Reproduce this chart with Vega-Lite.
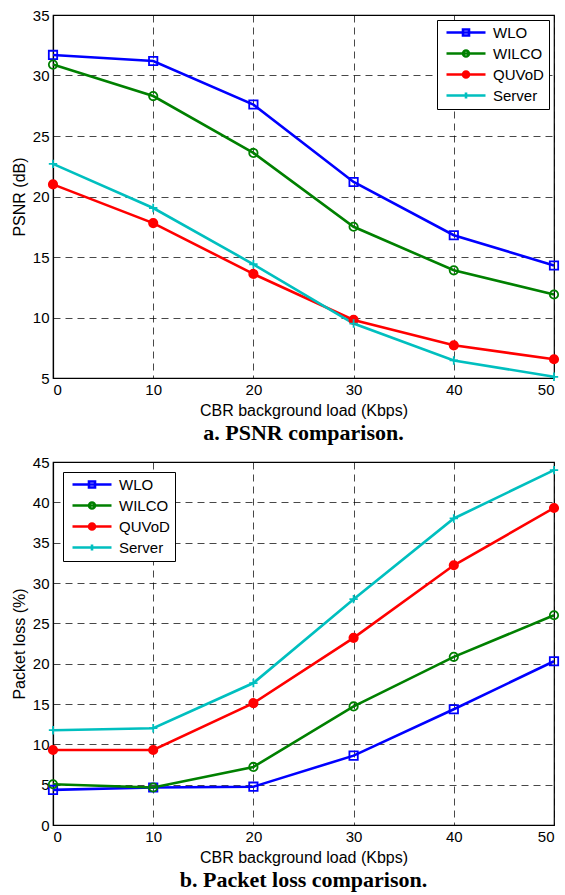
{
"$schema": "https://vega.github.io/schema/vega-lite/v6.json",
"padding": {"left": 10, "top": 7, "right": 0, "bottom": 0},
"background": "white",
"datasets": {
"psnr": [
{"load": 0, "series": "WLO", "value": 31.7}, {"load": 10, "series": "WLO", "value": 31.2}, {"load": 20, "series": "WLO", "value": 27.6}, {"load": 30, "series": "WLO", "value": 21.2}, {"load": 40, "series": "WLO", "value": 16.8}, {"load": 50, "series": "WLO", "value": 14.3},
{"load": 0, "series": "WILCO", "value": 30.9}, {"load": 10, "series": "WILCO", "value": 28.3}, {"load": 20, "series": "WILCO", "value": 23.6}, {"load": 30, "series": "WILCO", "value": 17.5}, {"load": 40, "series": "WILCO", "value": 13.9}, {"load": 50, "series": "WILCO", "value": 11.9},
{"load": 0, "series": "QUVoD", "value": 21.0}, {"load": 10, "series": "QUVoD", "value": 17.8}, {"load": 20, "series": "QUVoD", "value": 13.6}, {"load": 30, "series": "QUVoD", "value": 9.8}, {"load": 40, "series": "QUVoD", "value": 7.7}, {"load": 50, "series": "QUVoD", "value": 6.55},
{"load": 0, "series": "Server", "value": 22.7}, {"load": 10, "series": "Server", "value": 19.05}, {"load": 20, "series": "Server", "value": 14.4}, {"load": 30, "series": "Server", "value": 9.5}, {"load": 40, "series": "Server", "value": 6.45}, {"load": 50, "series": "Server", "value": 5.1}
],
"loss": [
{"load": 0, "series": "WLO", "value": 4.35}, {"load": 10, "series": "WLO", "value": 4.65}, {"load": 20, "series": "WLO", "value": 4.75}, {"load": 30, "series": "WLO", "value": 8.6}, {"load": 40, "series": "WLO", "value": 14.35}, {"load": 50, "series": "WLO", "value": 20.3},
{"load": 0, "series": "WILCO", "value": 5.05}, {"load": 10, "series": "WILCO", "value": 4.65}, {"load": 20, "series": "WILCO", "value": 7.2}, {"load": 30, "series": "WILCO", "value": 14.7}, {"load": 40, "series": "WILCO", "value": 20.85}, {"load": 50, "series": "WILCO", "value": 26.0},
{"load": 0, "series": "QUVoD", "value": 9.3}, {"load": 10, "series": "QUVoD", "value": 9.3}, {"load": 20, "series": "QUVoD", "value": 15.1}, {"load": 30, "series": "QUVoD", "value": 23.2}, {"load": 40, "series": "QUVoD", "value": 32.2}, {"load": 50, "series": "QUVoD", "value": 39.3},
{"load": 0, "series": "Server", "value": 11.75}, {"load": 10, "series": "Server", "value": 12.0}, {"load": 20, "series": "Server", "value": 17.6}, {"load": 30, "series": "Server", "value": 28.0}, {"load": 40, "series": "Server", "value": 38.0}, {"load": 50, "series": "Server", "value": 44.0}
]
},
"config": {
"view": {"stroke": "black", "strokeWidth": 1.2},
"font": "Liberation Sans",
"axis": {"labelFont": "Liberation Sans", "labelFontSize": 15, "labelColor": "black", "titleFont": "Liberation Sans", "titleFontSize": 16, "titleFontWeight": "normal", "titleColor": "black", "domainColor": "black", "domainWidth": 1.2, "ticks": false, "grid": true, "gridColor": "black", "gridDash": [7, 5], "gridOpacity": 0.8, "gridWidth": 0.9, "labelPadding": 4, "titlePadding": 5},
"title": {"font": "Liberation Serif", "fontSize": 22, "fontWeight": "bold", "color": "black", "orient": "bottom", "offset": 5},
"concat": {"spacing": 9}
},
"vconcat": [
{
"width": 501, "height": 363,
"title": {"text": "a. PSNR comparison.", "orient": "bottom"},
"data": {"name": "psnr"},
"encoding": {
"x": {"field": "load", "type": "quantitative", "scale": {"domain": [0, 50], "nice": false}, "axis": {"values": [0, 10, 20, 30, 40, 50], "title": "CBR background load (Kbps)"}},
"y": {"field": "value", "type": "quantitative", "scale": {"domain": [5, 35], "nice": false, "zero": false}, "axis": {"values": [5, 10, 15, 20, 25, 30, 35], "title": "PSNR (dB)"}}
},
"layer": [
{"mark": {"type": "line", "strokeWidth": 2.6},
"encoding": {"color": {"field": "series", "type": "nominal", "sort": ["WLO", "WILCO", "QUVoD", "Server"], "scale": {"domain": ["WLO", "WILCO", "QUVoD", "Server"], "range": ["#0000FF", "#008000", "#FF0000", "#00BFBF"]},
"legend": {"title": null, "orient": "top-right", "offset": 5, "fillColor": "white", "strokeColor": "black", "padding": 5, "rowPadding": 4, "labelFont": "Liberation Sans", "labelFontSize": 15, "labelColor": "black", "symbolSize": 36, "symbolStrokeWidth": 2.6, "symbolOffset": 16.5, "labelOffset": 19.5,
"encode": {"symbols": {"update": {"shape": {"signal": "datum.value === 'WLO' ? 'M-6.5,0H6.5M-1,-1H1V1H-1Z' : datum.value === 'Server' ? 'M-6.5,0H6.5M0,-1V1' : 'M-6.5,0H6.5M1,0A1,1,0,1,1,-1,0A1,1,0,1,1,1,0Z'"}, "fill": {"signal": "datum.value === 'QUVoD' ? '#FF0000' : 'transparent'"}}}}}}}},
{"mark": {"type": "point", "filled": true, "size": 70, "strokeWidth": 1.8, "opacity": 1},
"encoding": {
"shape": {"field": "series", "type": "nominal", "scale": {"domain": ["WLO", "WILCO", "QUVoD", "Server"], "range": ["square", "circle", "circle", "M-1,0H1M0,-1V1"]}, "legend": null},
"stroke": {"field": "series", "type": "nominal", "scale": {"domain": ["WLO", "WILCO", "QUVoD", "Server"], "range": ["#0000FF", "#008000", "#FF0000", "#00BFBF"]}, "legend": null},
"fill": {"field": "series", "type": "nominal", "scale": {"domain": ["WLO", "WILCO", "QUVoD", "Server"], "range": ["#0000FF", "#008000", "#FF0000", "#00BFBF"]}, "legend": null},
"fillOpacity": {"condition": {"test": "datum.series === 'QUVoD'", "value": 1}, "value": 0}
}}
]
},
{
"width": 501, "height": 363,
"title": {"text": "b. Packet loss comparison.", "orient": "bottom"},
"data": {"name": "loss"},
"encoding": {
"x": {"field": "load", "type": "quantitative", "scale": {"domain": [0, 50], "nice": false}, "axis": {"values": [0, 10, 20, 30, 40, 50], "title": "CBR background load (Kbps)"}},
"y": {"field": "value", "type": "quantitative", "scale": {"domain": [0, 45], "nice": false}, "axis": {"values": [0, 5, 10, 15, 20, 25, 30, 35, 40, 45], "title": "Packet loss (%)"}}
},
"layer": [
{"mark": {"type": "line", "strokeWidth": 2.6},
"encoding": {"color": {"field": "series", "type": "nominal", "sort": ["WLO", "WILCO", "QUVoD", "Server"], "scale": {"domain": ["WLO", "WILCO", "QUVoD", "Server"], "range": ["#0000FF", "#008000", "#FF0000", "#00BFBF"]},
"legend": {"title": null, "orient": "top-left", "offset": 10, "fillColor": "white", "strokeColor": "black", "padding": 5, "rowPadding": 4, "labelFont": "Liberation Sans", "labelFontSize": 15, "labelColor": "black", "symbolSize": 36, "symbolStrokeWidth": 2.6, "symbolOffset": 16.5, "labelOffset": 19.5,
"encode": {"symbols": {"update": {"shape": {"signal": "datum.value === 'WLO' ? 'M-6.5,0H6.5M-1,-1H1V1H-1Z' : datum.value === 'Server' ? 'M-6.5,0H6.5M0,-1V1' : 'M-6.5,0H6.5M1,0A1,1,0,1,1,-1,0A1,1,0,1,1,1,0Z'"}, "fill": {"signal": "datum.value === 'QUVoD' ? '#FF0000' : 'transparent'"}}}}}}}},
{"mark": {"type": "point", "filled": true, "size": 70, "strokeWidth": 1.8, "opacity": 1},
"encoding": {
"shape": {"field": "series", "type": "nominal", "scale": {"domain": ["WLO", "WILCO", "QUVoD", "Server"], "range": ["square", "circle", "circle", "M-1,0H1M0,-1V1"]}, "legend": null},
"stroke": {"field": "series", "type": "nominal", "scale": {"domain": ["WLO", "WILCO", "QUVoD", "Server"], "range": ["#0000FF", "#008000", "#FF0000", "#00BFBF"]}, "legend": null},
"fill": {"field": "series", "type": "nominal", "scale": {"domain": ["WLO", "WILCO", "QUVoD", "Server"], "range": ["#0000FF", "#008000", "#FF0000", "#00BFBF"]}, "legend": null},
"fillOpacity": {"condition": {"test": "datum.series === 'QUVoD'", "value": 1}, "value": 0}
}}
]
}
]
}
